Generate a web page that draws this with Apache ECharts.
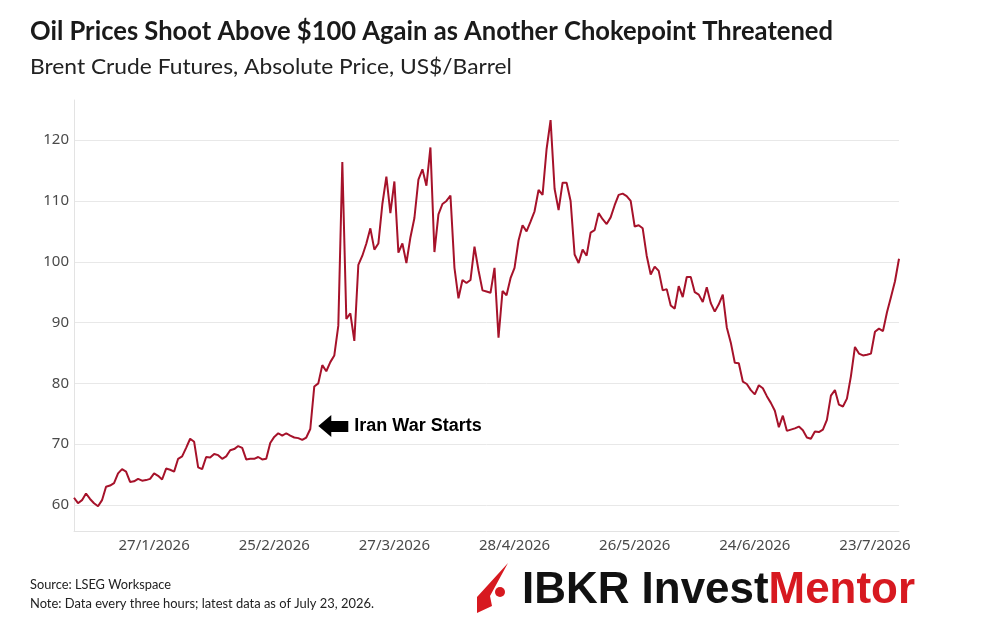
<!DOCTYPE html>
<html>
<head>
<meta charset="utf-8">
<script src="https://cdn.jsdelivr.net/npm/echarts@6/dist/echarts.min.js"></script>
<style>
  html, body { margin: 0; background: #fff; }
  #chart { width: 998px; height: 635px; }
</style>
</head>
<body>
<div id="chart"></div>
<script>
// texts
var titleText = 'Oil Prices Shoot Above $100 Again as Another Chokepoint Threatened';
var subtitleText = 'Brent Crude Futures, Absolute Price, US$/Barrel';
var sourceText = 'Source: LSEG Workspace';
var noteText = 'Note: Data every three hours; latest data as of July 23, 2026.';
var eventText = 'Iran War Starts';

// x axis tick labels (every 30th sample, starting at sample 20)
var tickLabels = ['27/1/2026', '25/2/2026', '27/3/2026', '28/4/2026', '26/5/2026', '24/6/2026', '23/7/2026'];
var firstTick = 20;
var tickStep = 30;

// Brent price (evenly spaced samples)
var brent = [
    61.2, 60.3, 60.8, 61.9, 61.0, 60.3, 59.8, 60.8, 63.0, 63.2,
    63.6, 65.2, 65.9, 65.5, 63.8, 63.9, 64.3, 64.0, 64.1, 64.3,
    65.2, 64.8, 64.2, 66.0, 65.8, 65.5, 67.6, 68.0, 69.4, 70.9,
    70.4, 66.2, 65.9, 67.9, 67.8, 68.4, 68.2, 67.6, 68.0, 69.0,
    69.2, 69.7, 69.4, 67.5, 67.6, 67.6, 67.9, 67.5, 67.6, 70.2,
    71.2, 71.8, 71.4, 71.8, 71.4, 71.1, 71.0, 70.7, 71.1, 72.5,
    79.5, 80.0, 83.0, 82.0, 83.5, 84.6, 89.5, 116.4, 90.6, 91.5,
    87.0, 99.5, 101.0, 103.0, 105.5, 102.0, 103.0, 109.5, 114.0, 108.0,
    113.2, 101.5, 103.0, 99.8, 104.0, 107.2, 113.5, 115.2, 112.5, 118.8,
    101.6, 107.8, 109.5, 110.0, 110.9, 99.0, 94.0, 97.0, 96.5, 97.0,
    102.5, 98.6, 95.3, 95.1, 94.9, 99.0, 87.5, 95.2, 94.5, 97.3,
    99.0, 103.5, 106.0, 105.0, 106.6, 108.3, 111.8, 111.0, 118.5, 123.3,
    112.0, 108.5, 113.0, 113.0, 110.0, 101.2, 99.8, 102.0, 101.0, 104.8,
    105.2, 108.0, 107.0, 106.2, 107.3, 109.3, 111.0, 111.2, 110.8, 110.0,
    105.8, 106.0, 105.5, 101.0, 97.9, 99.2, 98.5, 95.3, 95.5, 92.8,
    92.3, 96.0, 94.2, 97.5, 97.5, 95.0, 94.6, 93.4, 95.8, 93.2,
    91.8, 93.0, 94.6, 89.2, 86.7, 83.4, 83.3, 80.3, 79.9, 78.9,
    78.2, 79.7, 79.2, 77.9, 76.8, 75.5, 72.8, 74.7, 72.2, 72.4,
    72.6, 72.9, 72.3, 71.1, 70.9, 72.1, 72.0, 72.4, 74.0, 78.0,
    78.9, 76.5, 76.2, 77.5, 81.2, 86.0, 84.9, 84.6, 84.7, 84.9,
    88.5, 89.0, 88.6, 91.7, 94.2, 96.8, 100.5
];

// where the annotation arrow points
var eventIndex = 61;
var eventValue = 73;

var lineColor = '#a6122a';
var logoRed = '#d71920';

var categories = brent.map(function (_, i) { return String(i); });

function isTick(idx) {
    return idx >= firstTick && (idx - firstTick) % tickStep === 0;
}

// horizontal scale so a text fills a given width
var measureCtx = document.createElement('canvas').getContext('2d');
function fitScale(text, font, width) {
    measureCtx.font = font;
    return width / measureCtx.measureText(text).width;
}

var chart = echarts.init(document.getElementById('chart'));

var option = {
    animation: false,
    backgroundColor: '#fff',
    grid: {
        left: 74,
        right: 99,
        top: 100,
        bottom: 104,
        containLabel: false
    },
    xAxis: {
        type: 'category',
        data: categories,
        boundaryGap: false,
        axisLine: { show: true, lineStyle: { color: '#e3e3e3', width: 1 } },
        axisTick: { show: false },
        axisLabel: {
            interval: function (idx) { return isTick(idx); },
            formatter: function (val, idx) {
                return tickLabels[(idx - firstTick) / tickStep];
            },
            color: '#4a4a4a',
            fontFamily: 'Noto Sans',
            fontSize: 15,
            margin: 7
        },
        splitLine: { show: false }
    },
    yAxis: {
        type: 'value',
        min: 55.73,
        max: 126.6,
        minInterval: 10,
        maxInterval: 10,
        axisLine: { show: true, lineStyle: { color: '#e3e3e3', width: 1 } },
        axisTick: { show: false },
        axisLabel: {
            showMinLabel: false,
            showMaxLabel: false,
            color: '#4a4a4a',
            fontFamily: 'Noto Sans',
            fontSize: 15,
            margin: 5
        },
        splitLine: {
            show: true,
            showMinLine: false,
            showMaxLine: false,
            lineStyle: { color: '#e8e8e8', width: 1 }
        }
    },
    series: [{
        type: 'line',
        data: brent,
        showSymbol: false,
        symbol: 'none',
        lineStyle: { color: lineColor, width: 2 },
        itemStyle: { color: lineColor }
    }]
};
chart.setOption(option);

// annotation + headings + footer
var tip = chart.convertToPixel({ seriesIndex: 0 }, [eventIndex, eventValue]);

var titleFont = 'bold 26px Lato';
var subFont = '21px Lato';
var footFont = '12.5px Lato';
var logoFont = 'bold 44px "Liberation Sans"';

chart.setOption({
    graphic: [
        {
            type: 'text', x: 30, y: 32,
            scaleX: fitScale(titleText, titleFont, 803),
            style: { text: titleText, font: titleFont, fill: '#1a1a1a', verticalAlign: 'middle' }
        },
        {
            type: 'text', x: 30, y: 67,
            scaleX: fitScale(subtitleText, subFont, 482),
            style: { text: subtitleText, font: subFont, fill: '#222', verticalAlign: 'middle' }
        },
        {
            type: 'polygon', x: tip[0], y: tip[1],
            shape: { points: [[0, 0], [13, -11], [13, -5], [30, -5], [30, 6], [13, 6], [13, 11]] },
            style: { fill: '#000' }
        },
        {
            type: 'text', x: tip[0] + 36, y: tip[1],
            style: { text: eventText, font: 'bold 18px "Liberation Sans"', fill: '#000', verticalAlign: 'middle' }
        },
        {
            type: 'text', x: 30, y: 585,
            scaleX: fitScale(sourceText, footFont, 141),
            style: { text: sourceText, font: footFont, fill: '#222', verticalAlign: 'middle' }
        },
        {
            type: 'text', x: 30, y: 604,
            scaleX: fitScale(noteText, footFont, 344),
            style: { text: noteText, font: footFont, fill: '#222', verticalAlign: 'middle' }
        },
        {
            type: 'polygon',
            shape: { points: [[508, 563], [477, 597], [477, 613], [492, 606], [490, 596]] },
            style: { fill: logoRed }
        },
        {
            type: 'circle',
            shape: { cx: 500, cy: 592, r: 5 },
            style: { fill: logoRed }
        },
        {
            type: 'text', x: 522, y: 591,
            scaleX: fitScale('IBKR InvestMentor', logoFont, 393),
            style: {
                text: '{a|IBKR Invest}{b|Mentor}',
                verticalAlign: 'middle',
                rich: {
                    a: { font: logoFont, fill: '#111' },
                    b: { font: logoFont, fill: logoRed }
                }
            }
        }
    ]
});
</script>
</body>
</html>
